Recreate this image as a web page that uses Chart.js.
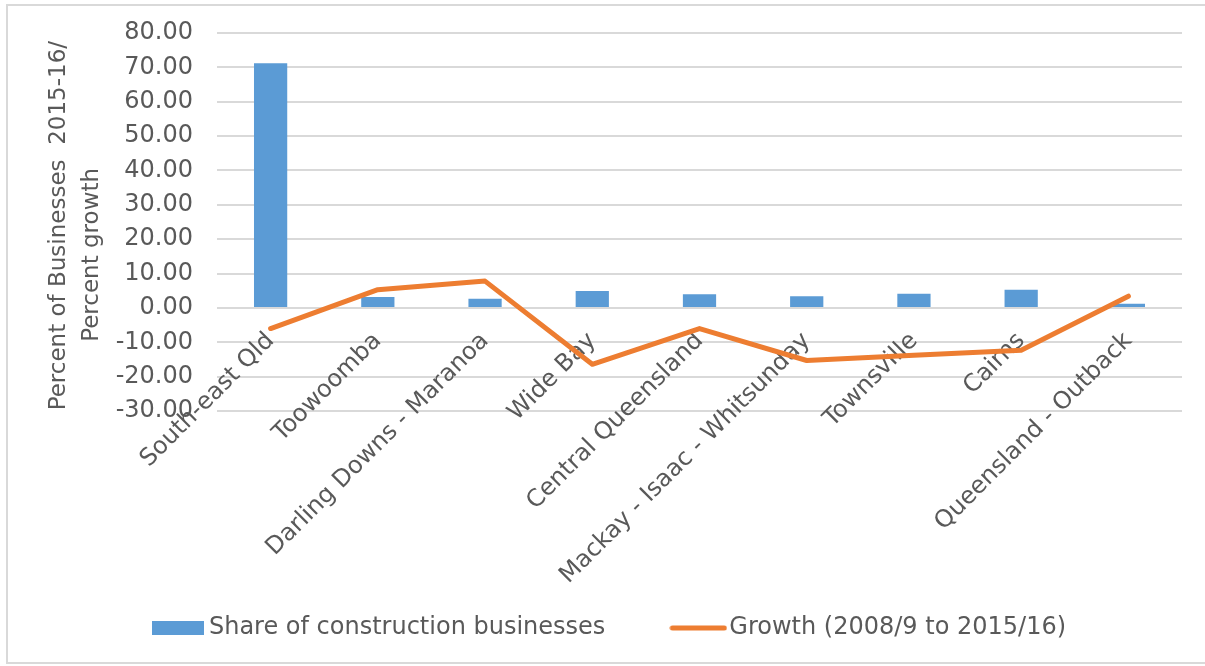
<!DOCTYPE html>
<html>
<head>
<meta charset="utf-8">
<script src="https://cdn.jsdelivr.net/npm/chart.js@4"></script>
<style>
  html, body { margin: 0; padding: 0; background: #fff; }
  #wrap { position: relative; width: 1205px; height: 666px; overflow: hidden; }
  #frame { position: absolute; left: 6px; top: 4px; width: 1230px; height: 660px;
           border: 2px solid #d9d9d9; box-sizing: border-box; }
  canvas { position: absolute; left: 0; top: 0; }
</style>
</head>
<body>
<div id="wrap">
  <div id="frame"></div>
  <canvas id="regionChart" width="1205" height="666"></canvas>
</div>
<script>
const regions = ["South-east Qld", "Toowoomba", "Darling Downs - Maranoa", "Wide Bay",
  "Central Queensland", "Mackay - Isaac - Whitsunday", "Townsville", "Cairns", "Queensland - Outback"];
const shareOfBusinesses = [71.2, 3.2, 2.7, 4.9, 4.0, 3.4, 4.1, 5.3, 1.2];
const growthPct = [-6.0, 5.3, 7.8, -16.4, -6.0, -15.3, -13.8, -12.3, 3.4];
const yTitle = ["Percent of Businesses  2015-16/ ", "Percent growth         "];

const BLUE = "#5b9bd5";
const ORANGE = "#ed7d31";
const TEXT = "#595959";
const GRID = "#d9d9d9";
const FONT = "'DejaVu Sans', Verdana, sans-serif";

// legend swatches, wider than the legend box so the text sits close to them
function swatch(w, h, draw) {
  const c = document.createElement("canvas");
  c.width = w;
  c.height = h;
  draw(c.getContext("2d"));
  return c;
}
const barSwatch = swatch(52, 14, (g) => { g.fillStyle = BLUE; g.fillRect(0, 0, 52, 14); });
const lineSwatch = swatch(58, 6, (g) => {
  g.strokeStyle = ORANGE;
  g.lineWidth = 5;
  g.lineCap = "round";
  g.beginPath();
  g.moveTo(3, 3);
  g.lineTo(55, 3);
  g.stroke();
});

const ctx = document.getElementById("regionChart").getContext("2d");
const regionChart = new Chart(ctx, {
  type: "bar",
  data: {
    labels: regions,
    datasets: [
      {
        label: "Share of construction businesses",
        data: shareOfBusinesses,
        backgroundColor: BLUE,
        borderWidth: 0,
        barPercentage: 0.31,
        categoryPercentage: 1,
        order: 1,
      },
      {
        type: "line",
        label: "Growth (2008/9 to 2015/16)",
        data: growthPct,
        borderColor: ORANGE,
        backgroundColor: ORANGE,
        borderWidth: 5,
        borderCapStyle: "round",
        borderJoinStyle: "round",
        pointRadius: 0,
        tension: 0,
        order: 0,
      },
    ],
  },
  options: {
    responsive: false,
    animation: false,
    layout: {
      padding: { left: 43, right: 23, top: 33, bottom: 16 },
    },
    plugins: {
      tooltip: { enabled: false },
      legend: {
        position: "bottom",
        labels: {
          color: TEXT,
          font: { family: FONT, size: 24 },
          usePointStyle: true,
          pointStyleWidth: 38,
          boxHeight: 14,
          padding: 74,
          generateLabels: (chart) =>
            chart.data.datasets.map((ds, i) => ({
              text: ds.label,
              fillStyle: ds.backgroundColor,
              strokeStyle: ds.backgroundColor,
              lineWidth: 0,
              pointStyle: ds.type === "line" ? lineSwatch : barSwatch,
              fontColor: TEXT,
              hidden: false,
              datasetIndex: i,
            })),
        },
      },
    },
    scales: {
      // category labels hang off the zero line
      x: {
        position: { y: 0 },
        grid: { display: false, drawTicks: false },
        border: { display: false },
        ticks: {
          color: TEXT,
          font: { family: FONT, size: 24 },
          minRotation: 45,
          maxRotation: 45,
          autoSkip: false,
          padding: 19,
          labelOffset: 0,
        },
      },
      // empty band under the plot, keeps room for the rotated labels
      xSpace: {
        type: "category",
        position: "bottom",
        grid: { display: false, drawTicks: false },
        border: { display: false },
        ticks: { display: false },
        afterFit: (scale) => { scale.height = 131; },
      },
      y: {
        min: -30,
        max: 80,
        grid: { color: GRID, lineWidth: 2, drawTicks: false },
        border: { display: false },
        ticks: {
          stepSize: 10,
          color: TEXT,
          padding: 24,
          font: { family: FONT, size: 24 },
          callback: (v) => v.toFixed(2),
        },
        title: {
          display: true,
          text: yTitle,
          color: TEXT,
          padding: 0,
          font: { family: FONT, size: 23, lineHeight: 1.435 },
        },
        afterFit: (scale) => {
          scale.width = 174;
          scale.paddingTop = 0;
          scale.paddingBottom = 0;
        },
      },
    },
  },
});
</script>
</body>
</html>
